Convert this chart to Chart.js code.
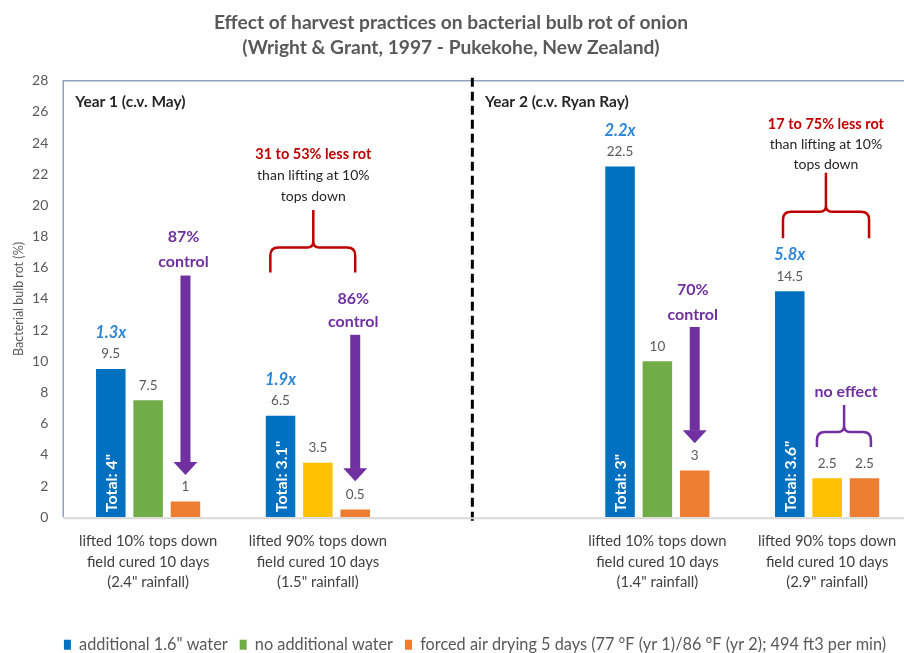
<!DOCTYPE html>
<html>
<head>
<meta charset="utf-8">
<script src="https://cdn.jsdelivr.net/npm/chart.js@4.4.1/dist/chart.umd.min.js"></script>
<style>
  html, body { margin: 0; padding: 0; background: #fff; overflow: hidden; }
  #wrap { width: 904px; height: 653px; overflow: hidden; position: relative; }
  canvas { display: block; }
</style>
</head>
<body>
<div id="wrap"><canvas id="chart" width="912" height="663"></canvas></div>
<script>
// ---- data ----
const categories = [
  ['lifted 10% tops down', 'field cured 10 days', '(2.4" rainfall)'],
  ['lifted 90% tops down', 'field cured 10 days', '(1.5" rainfall)'],
  '',
  ['lifted 10% tops down', 'field cured 10 days', '(1.4" rainfall)'],
  ['lifted 90% tops down', 'field cured 10 days', '(2.9" rainfall)']
];
const seriesNames = [
  'additional 1.6" water',
  'no additional water',
  'forced air drying 5 days (77 °F (yr 1)/86 °F (yr 2); 494 ft3 per min)'
];
const additionalWater   = [9.5, 6.5, null, 22.5, 14.5];
const noAdditionalWater = [7.5, 3.5, null, 10, 2.5];
const forcedAirDrying   = [1, 0.5, null, 3, 2.5];
const totalWater = ['Total: 4"', 'Total: 3.1"', '', 'Total: 3"', 'Total: 3.6"'];
const increase   = ['1.3x', '1.9x', '', '2.2x', '5.8x'];
const yMin = 0, yMax = 28, yStep = 2;
const yearLabels = ['Year 1 (c.v. May)', 'Year 2 (c.v. Ryan Ray)'];

// control arrows over the forced-air bars (values on the y scale)
const controlArrows = [
  { cat: 0, from: 15.5, to: 2.7,  lines: ['87%', 'control'], at: [18.0, 16.4] },
  { cat: 1, from: 11.7, to: 2.3,  lines: ['86%', 'control'], at: [14.0, 12.5] },
  { cat: 3, from: 12.2, to: 4.75, lines: ['70%', 'control'], at: [14.6, 13.0] }
];
// braces: horizontal extent in category units, vertical in y units
const braces = [
  { left: 0.72, right: 1.22, mid: 0.973, foot: 15.7, bar: 17.3, peak: 19.7, color: '#C00000',
    lines: ['31 to 53% less rot', 'than lifting at 10%', 'tops down'], at: [23.25, 21.9, 20.6] },
  { left: 3.74, right: 4.247, mid: 3.993, foot: 17.9, bar: 19.6, peak: 22.1, color: '#C00000',
    lines: ['17 to 75% less rot', 'than lifting at 10%', 'tops down'], at: [25.2, 23.9, 22.6] },
  { left: 3.94, right: 4.258, mid: 4.1, foot: 4.5, bar: 5.46, peak: 7.2, color: '#7030A0',
    lines: ['no effect'], at: [8.03] }
];

const BLUE = '#0070C0', GREEN = '#70AD47', YELLOW = '#FFC000', ORANGE = '#ED7D31';
const PURPLE = '#7030A0', RED = '#C00000', GREY = '#595959';
const FONT = 'Lato, "Open Sans", sans-serif';
const middleColors = [GREEN, YELLOW, GREEN, GREEN, YELLOW];

function font(size, weight, style) {
  return (style || 'normal') + ' ' + (weight || 'normal') + ' ' + size + 'px ' + FONT;
}

// frame, divider, value labels and callouts
const decorations = {
  id: 'decorations',
  beforeDatasetsDraw(chart) {
    const { ctx, chartArea: a, scales: { x, y } } = chart;
    ctx.save();
    // plot frame (left and top edges)
    ctx.strokeStyle = '#8FA2BC';
    ctx.lineWidth = 1.5;
    ctx.beginPath();
    ctx.moveTo(a.left, a.bottom);
    ctx.lineTo(a.left, a.top);
    ctx.lineTo(a.right + 2, a.top);
    ctx.stroke();
    // year divider
    const dx = x.getPixelForValue(1.91);
    ctx.strokeStyle = '#000';
    ctx.lineWidth = 3;
    ctx.setLineDash([9, 5]);
    ctx.beginPath();
    ctx.moveTo(dx, a.top - 3);
    ctx.lineTo(dx, a.bottom + 8);
    ctx.stroke();
    ctx.setLineDash([]);
    ctx.restore();
  },
  afterDatasetsDraw(chart) {
    const { ctx, chartArea: a, scales: { x, y } } = chart;
    ctx.save();
    // baseline
    ctx.strokeStyle = '#D9D9D9';
    ctx.lineWidth = 2;
    ctx.beginPath();
    ctx.moveTo(a.left, y.getPixelForValue(0) + 1);
    ctx.lineTo(a.right, y.getPixelForValue(0) + 1);
    ctx.stroke();

    // year captions
    ctx.fillStyle = '#262626';
    ctx.font = font(15.5, 'bold');
    ctx.textAlign = 'left';
    ctx.textBaseline = 'middle';
    ctx.fillText(yearLabels[0], x.getPixelForValue(-0.43), y.getPixelForValue(26.65));
    ctx.fillText(yearLabels[1], x.getPixelForValue(1.984), y.getPixelForValue(26.65));

    // value labels above every bar
    ctx.textAlign = 'center';
    chart.data.datasets.forEach((ds, di) => {
      const meta = chart.getDatasetMeta(di);
      meta.data.forEach((bar, i) => {
        const v = ds.data[i];
        if (v == null) return;
        ctx.fillStyle = GREY;
        ctx.font = font(13.5);
        ctx.fillText(String(v), bar.x, bar.y - 15);
        if (di === 0) {
          ctx.fillStyle = '#2E86D6';
          ctx.font = font(16.5, 'bold', 'italic');
          ctx.fillText(increase[i], bar.x, bar.y - 36);
          // total water, written up the bar
          ctx.save();
          ctx.translate(bar.x, bar.base - 5);
          ctx.rotate(-Math.PI / 2);
          ctx.fillStyle = '#fff';
          ctx.font = font(16, 'bold');
          ctx.textAlign = 'left';
          ctx.fillText(totalWater[i], 0, 1);
          ctx.restore();
        }
      });
    });

    // control arrows
    const orangeMeta = chart.getDatasetMeta(2);
    controlArrows.forEach(arw => {
      const cx = orangeMeta.data[arw.cat].x;
      const top = y.getPixelForValue(arw.from);
      const tip = y.getPixelForValue(arw.to);
      const headLen = 13, shaft = 10, head = 24;
      ctx.fillStyle = PURPLE;
      ctx.fillRect(cx - shaft / 2, top, shaft, tip - headLen - top + 0.5);
      ctx.beginPath();
      ctx.moveTo(cx - head / 2, tip - headLen);
      ctx.lineTo(cx + head / 2, tip - headLen);
      ctx.lineTo(cx, tip);
      ctx.closePath();
      ctx.fill();
      ctx.font = font(16, 'bold');
      ctx.textAlign = 'center';
      arw.lines.forEach((t, k) => ctx.fillText(t, cx - 2, y.getPixelForValue(arw.at[k])));
    });

    // braces
    braces.forEach(b => {
      const l = x.getPixelForValue(b.left), r = x.getPixelForValue(b.right);
      const m = x.getPixelForValue(b.mid);
      const foot = y.getPixelForValue(b.foot), bar = y.getPixelForValue(b.bar);
      const peak = y.getPixelForValue(b.peak);
      const rad = Math.min(8, (foot - bar) * 0.8);
      ctx.strokeStyle = b.color;
      ctx.lineWidth = 2.5;
      ctx.lineJoin = 'round';
      ctx.beginPath();
      ctx.moveTo(l, foot);
      ctx.lineTo(l, bar + rad);
      ctx.quadraticCurveTo(l, bar, l + rad, bar);
      ctx.lineTo(m - 6, bar);
      ctx.quadraticCurveTo(m, bar, m, bar - 6);
      ctx.lineTo(m, peak);
      ctx.moveTo(m, bar - 6);
      ctx.quadraticCurveTo(m, bar, m + 6, bar);
      ctx.lineTo(r - rad, bar);
      ctx.quadraticCurveTo(r, bar, r, bar + rad);
      ctx.lineTo(r, foot);
      ctx.stroke();
      ctx.textAlign = 'center';
      b.lines.forEach((t, k) => {
        if (k === 0) {
          ctx.fillStyle = b.color;
          ctx.font = font(b.color === RED ? 14.5 : 16, 'bold');
        } else {
          ctx.fillStyle = '#262626';
          ctx.font = font(14);
        }
        ctx.fillText(t, m + (b.color === RED ? 0 : 2), y.getPixelForValue(b.at[k]));
      });
    });
    ctx.restore();
  },
  afterLayout(chart) {
    // optical centring of the title and the legend row
    chart.titleBlock.left -= 5; chart.titleBlock.right -= 5;
    chart.legend.left += 19; chart.legend.right += 19;
  }
};

new Chart(document.getElementById('chart'), {
  type: 'bar',
  data: {
    labels: categories,
    datasets: [
      { label: seriesNames[0], data: additionalWater, backgroundColor: BLUE },
      { label: seriesNames[1], data: noAdditionalWater, backgroundColor: middleColors },
      { label: seriesNames[2], data: forcedAirDrying, backgroundColor: ORANGE }
    ]
  },
  options: {
    responsive: false,
    animation: false,
    events: [],
    datasets: { bar: { categoryPercentage: 0.66, barPercentage: 0.79 } },
    layout: { padding: 0 },
    plugins: {
      title: {
        display: true,
        text: ['Effect of harvest practices on bacterial bulb rot of onion',
               '(Wright & Grant, 1997 - Pukekohe, New Zealand)'],
        color: GREY,
        font: { family: FONT, size: 19.2, weight: 'bold', lineHeight: 1.32 },
        padding: { top: 10, bottom: 20 }
      },
      legend: {
        position: 'bottom',
        labels: {
          color: GREY,
          boxWidth: 7, boxHeight: 10,
          padding: 12,
          font: { family: FONT, size: 16.3 }
        }
      },
      tooltip: { enabled: false }
    },
    scales: {
      x: {
        grid: { display: false, drawTicks: false },
        border: { display: false },
        ticks: {
          color: '#404040', autoSkip: false, maxRotation: 0, padding: 14,
          font: { family: FONT, size: 14.8, lineHeight: 1.38 }
        },
        afterFit(s) { s.height = 107.5; }
      },
      y: {
        min: yMin, max: yMax,
        grid: { display: false, drawTicks: false },
        border: { display: false },
        ticks: { stepSize: yStep, color: GREY, padding: 15, font: { family: FONT, size: 14 } },
        title: {
          display: true, text: 'Bacterial bulb rot (%)', color: GREY,
          font: { family: FONT, size: 12.5 }, padding: { top: 11, bottom: 0 }
        },
        afterFit(s) { s.width = 63.25; }
      }
    }
  },
  plugins: [decorations]
});
</script>
</body>
</html>
